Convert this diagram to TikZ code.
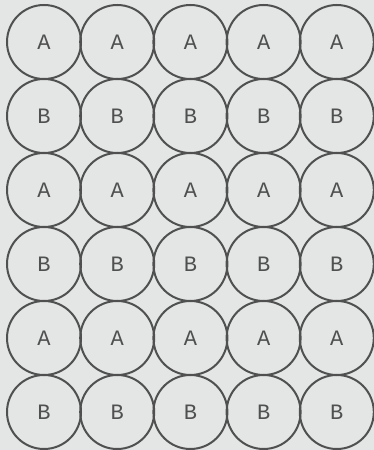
\documentclass[tikz,border=0pt]{standalone}
\usepackage{fontspec}
\newfontfamily\typefont{Liberation Mono}
\usepackage{tikz}
\definecolor{paper}{HTML}{E4E6E6}
\definecolor{ink}{HTML}{505050}

\begin{document}
\begin{tikzpicture}[x=1pt,y=1pt,
  ball/.style={circle,draw=ink,line width=2pt,minimum size=74pt,inner sep=0pt,
    text=ink,font=\typefont\fontsize{22}{22}\selectfont}]
\fill[paper] (0,0) rectangle (374,450);
\useasboundingbox (0,0) rectangle (374,450);
\foreach \r/\t in {1/A,2/B,3/A,4/B,5/A,6/B}{
  \foreach \c in {1,...,5}{
    \node[ball] (b\r\c) at ({44+73.2*(\c-1)},{450-42-74*(\r-1)}) {\t};
  }
}
\end{tikzpicture}
\end{document}
